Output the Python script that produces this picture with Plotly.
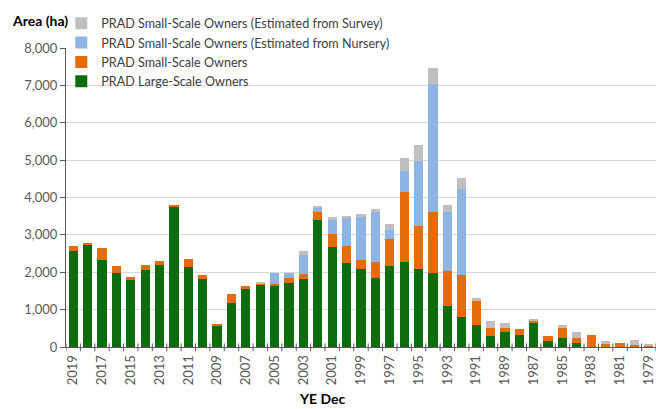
import plotly.graph_objects as go

# Planted area by year (YE Dec), in hectares
years = [str(y) for y in range(2019, 1978, -1)]

large_scale = [2560, 2750, 2340, 1980, 1800, 2060, 2200, 3760, 2140, 1820,
               550, 1190, 1550, 1660, 1620, 1710, 1820, 3400, 2680, 2250,
               2090, 1850, 2160, 2270, 2080, 1970, 1090, 810, 580, 300,
               410, 310, 660, 150, 230, 100, 0, 0, 0, 0, 0]

small_scale = [150, 20, 310, 190, 60, 130, 110, 30, 220, 100,
               60, 220, 90, 30, 60, 140, 130, 200, 350, 450,
               240, 430, 730, 1890, 1160, 1640, 940, 1120, 640, 210,
               110, 160, 50, 150, 270, 150, 320, 80, 100, 50, 30]

small_nursery = [0, 0, 0, 0, 0, 0, 0, 0, 0, 0,
                 0, 0, 0, 0, 300, 140, 510, 130, 380, 740,
                 1160, 1320, 240, 550, 1740, 3440, 1580, 2290, 0, 0,
                 0, 0, 0, 0, 0, 0, 0, 0, 0, 0, 0]

small_survey = [0, 0, 0, 0, 0, 0, 0, 0, 0, 0,
                0, 0, 0, 40, 0, 0, 110, 30, 80, 70,
                80, 100, 170, 340, 420, 420, 200, 290, 100, 190,
                120, 0, 30, 0, 90, 140, 0, 90, 0, 140, 50]

label_years = years[::2]

FONT = "Lato, 'Open Sans', sans-serif"
AXIS_GREY = "#595959"

series = [
    ("PRAD Large-Scale Owners", large_scale, "#0e6b0e"),
    ("PRAD Small-Scale Owners", small_scale, "#e46c0a"),
    ("PRAD Small-Scale Owners (Estimated from Nursery)", small_nursery, "#8db4e2"),
    ("PRAD Small-Scale Owners (Estimated from Survey)", small_survey, "#bfbfbf"),
]

fig = go.Figure()
for name, vals, color in series:
    fig.add_trace(go.Bar(x=years, y=vals, name=name, marker_color=color,
                         marker_line_width=0))

# tick marks on the category boundaries, crossing the x axis line
shapes = []
for i in range(len(years) + 1):
    shapes.append(dict(type="line", xref="x", yref="paper",
                       x0=i - 0.5, x1=i - 0.5, y0=-0.014, y1=0.012,
                       line=dict(color=AXIS_GREY, width=1)))

fig.update_layout(
    width=656, height=409,
    margin=dict(l=66, r=0, t=48, b=62),
    barmode="stack",
    bargap=0.36,
    plot_bgcolor="white",
    paper_bgcolor="white",
    font=dict(family=FONT, size=13, color=AXIS_GREY),
    shapes=shapes,
    legend=dict(
        traceorder="reversed",
        x=-0.008, y=1.132, xanchor="left", yanchor="top",
        bgcolor="rgba(0,0,0,0)",
        font=dict(family=FONT, size=12.6, color="#404040"),
        itemclick=False,
    ),
    annotations=[
        dict(text="<b>Area (ha)</b>", xref="paper", yref="paper",
             x=(10 - 66) / 590, y=(347 - 20) / 299, xanchor="left", yanchor="middle",
             showarrow=False, font=dict(family=FONT, size=14, color="black")),
        dict(text="<b>YE Dec</b>", xref="paper", yref="paper",
             x=(322 - 66) / 590, y=(347 - 398) / 299, xanchor="center", yanchor="middle",
             showarrow=False, font=dict(family=FONT, size=14, color="black")),
    ],
)

fig.update_xaxes(
    type="category",
    categoryorder="array", categoryarray=years,
    tickmode="array", tickvals=label_years, ticktext=label_years,
    tickangle=-90,
    ticks="outside", ticklen=2, tickcolor="rgba(0,0,0,0)",
    showline=True, linecolor=AXIS_GREY, linewidth=1,
    tickfont=dict(family=FONT, size=13, color=AXIS_GREY),
    range=[-0.5, len(years) - 0.5],
)

fig.update_yaxes(
    range=[0, 8000],
    dtick=1000,
    tickformat=",",
    ticks="outside", ticklen=5, tickcolor=AXIS_GREY,
    showline=True, linecolor=AXIS_GREY, linewidth=1,
    showgrid=True, gridcolor="#d9d9d9", gridwidth=1,
    zeroline=False,
    tickfont=dict(family=FONT, size=13, color=AXIS_GREY),
)

fig.write_html("out.html")
